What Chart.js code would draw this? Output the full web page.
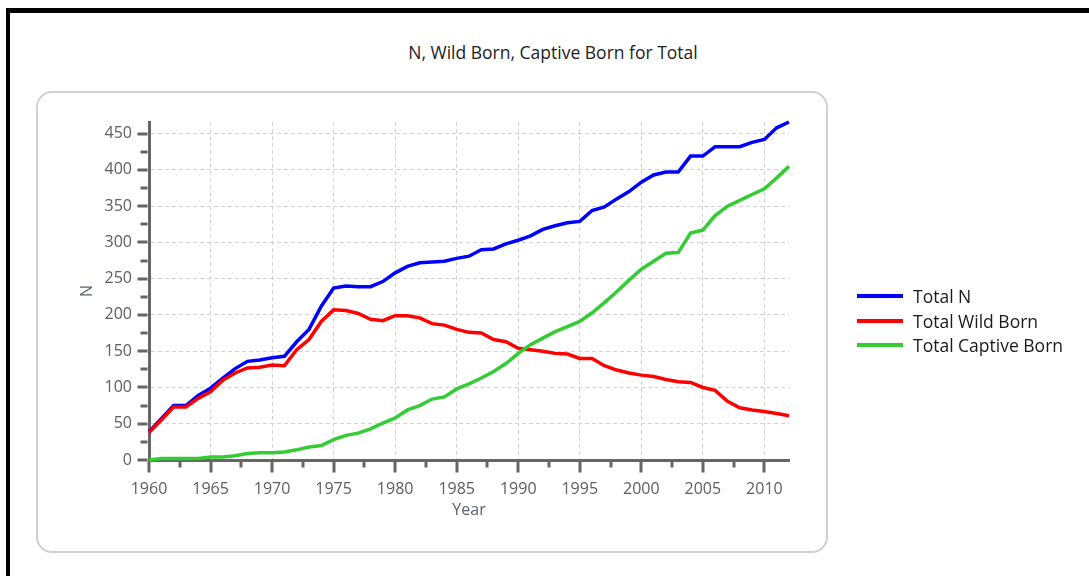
<!DOCTYPE html>
<html>
<head>
<meta charset="utf-8">
<title>N, Wild Born, Captive Born for Total</title>
<script src="https://cdn.jsdelivr.net/npm/chart.js@4.4.1/dist/chart.umd.min.js"></script>
<style>
  html, body { margin: 0; padding: 0; background: #fff; }
  #page { position: relative; width: 1089px; height: 576px; overflow: hidden; font-family: 'Open Sans', sans-serif; }
  #frame { position: absolute; left: 6px; top: 8px; width: 1200px; height: 700px; border-top: 5px solid #000; border-left: 4px solid #000; }
  #panel { position: absolute; left: 36px; top: 91px; width: 788px; height: 458px; border: 2px solid #d0d0d0; border-radius: 16px; }
  #title { position: absolute; left: 303px; width: 500px; top: 40px; text-align: center; font-size: 17.5px; color: #222; }
  #chart { position: absolute; left: 0; top: 0; }
  #legend { position: absolute; left: 857px; top: 284px; }
  .item { display: flex; align-items: center; height: 24.5px; font-size: 17.5px; color: #1a1a1a; white-space: nowrap; }
  .swatch { width: 46px; height: 4px; margin-right: 10px; }
</style>
</head>
<body>
<div id="page">
  <div id="frame"></div>
  <div id="panel"></div>
  <div id="title">N, Wild Born, Captive Born for Total</div>
  <canvas id="chart" width="1089" height="576"></canvas>
  <div id="legend"></div>
</div>
<script>
const years = [1960, 1961, 1962, 1963, 1964, 1965, 1966, 1967, 1968, 1969,
    1970, 1971, 1972, 1973, 1974, 1975, 1976, 1977, 1978, 1979,
    1980, 1981, 1982, 1983, 1984, 1985, 1986, 1987, 1988, 1989,
    1990, 1991, 1992, 1993, 1994, 1995, 1996, 1997, 1998, 1999,
    2000, 2001, 2002, 2003, 2004, 2005, 2006, 2007, 2008, 2009,
    2010, 2011, 2012];

const totalN = [39, 57, 75, 75, 89, 99, 113, 126, 136, 138,
    141, 143, 163, 180, 212, 237, 240, 239, 239, 246,
    258, 267, 272, 273, 274, 278, 281, 290, 291, 298,
    303, 309, 318, 323, 327, 329, 344, 349, 360, 370,
    383, 393, 397, 397, 419, 419, 432, 432, 432, 438,
    442, 458, 466];

const wildBorn = [38, 55, 73, 73, 85, 94, 110, 120, 127, 128,
    131, 130, 152, 166, 191, 207, 206, 202, 194, 192,
    199, 199, 196, 188, 186, 180, 176, 175, 166, 163,
    154, 152, 150, 147, 146, 140, 140, 130, 124, 120,
    117, 115, 111, 108, 107, 100, 96, 81, 72, 69,
    67, 64, 61];

const captiveBorn = [0, 2, 2, 2, 2, 4, 4, 6, 9, 10,
    10, 11, 14, 18, 20, 28, 34, 37, 43, 51,
    58, 69, 75, 84, 87, 98, 105, 113, 122, 133,
    147, 159, 168, 177, 184, 191, 203, 217, 232, 248,
    263, 274, 285, 286, 313, 317, 337, 350, 358, 366,
    374, 389, 405];

const seriesNames = ['Total N', 'Total Wild Born', 'Total Captive Born'];
const seriesColors = ['#0000ff', '#ff0000', '#33cc33'];

const axisColor = '#666666';
const gridColor = '#d2d2d2';

function toPoints(values) {
    return years.map((yr, i) => ({ x: yr, y: values[i] }));
}

// axis tick marks: long at labelled values, short in between
const tickMarks = {
    id: 'tickMarks',
    afterDraw(chart) {
        const { ctx, chartArea, scales } = chart;
        ctx.save();
        ctx.strokeStyle = axisColor;
        ctx.lineWidth = 3;
        ctx.beginPath();
        for (let v = 0; v <= scales.y.max; v += 25) {
            const py = Math.round(scales.y.getPixelForValue(v));
            const len = v % 50 === 0 ? 10 : 7;
            ctx.moveTo(chartArea.left - 1.5 - len, py);
            ctx.lineTo(chartArea.left - 1.5, py);
        }
        for (let v = scales.x.min; v <= scales.x.max; v += 2.5) {
            const px = Math.round(scales.x.getPixelForValue(v));
            const len = v % 5 === 0 ? 11 : 6;
            ctx.moveTo(px, chartArea.bottom + 1.5);
            ctx.lineTo(px, chartArea.bottom + 1.5 + len);
        }
        ctx.stroke();
        ctx.restore();
    }
};

const tickFont = { family: 'Open Sans', size: 16 };

const chart = new Chart(document.getElementById('chart'), {
    type: 'line',
    data: {
        datasets: [
            { label: seriesNames[0], data: toPoints(totalN), borderColor: seriesColors[0], order: 3 },
            { label: seriesNames[1], data: toPoints(wildBorn), borderColor: seriesColors[1], order: 2 },
            { label: seriesNames[2], data: toPoints(captiveBorn), borderColor: seriesColors[2], order: 1 }
        ]
    },
    options: {
        responsive: false,
        animation: false,
        clip: false,
        elements: {
            line: { borderWidth: 3.5, tension: 0, fill: false },
            point: { radius: 0 }
        },
        layout: { padding: { left: 0, top: 122, right: 300, bottom: 0 } },
        plugins: {
            legend: { display: false },
            tooltip: { enabled: false }
        },
        scales: {
            x: {
                type: 'linear',
                min: 1960,
                max: 2012,
                afterFit(s) { s.height = 116; },
                ticks: {
                    stepSize: 2.5,
                    includeBounds: false,
                    autoSkip: false,
                    maxRotation: 0,
                    minRotation: 0,
                    padding: 20,
                    color: '#5e5e5e',
                    font: tickFont,
                    callback: v => (v % 5 === 0 ? String(v) : '')
                },
                grid: {
                    drawTicks: false,
                    lineWidth: 1,
                    color: c => (c.tick && c.tick.value % 5 === 0 && c.tick.value > 1960 ? gridColor : 'transparent')
                },
                border: { display: true, color: axisColor, width: 3, dash: [4, 3] },
                title: {
                    display: true,
                    text: 'Year',
                    color: '#5d6270',
                    font: { family: 'Open Sans', size: 16 },
                    padding: { top: 0, bottom: 56 }
                }
            },
            y: {
                min: 0,
                max: 466,
                afterFit(s) { s.width = 149; },
                ticks: {
                    stepSize: 25,
                    includeBounds: false,
                    autoSkip: false,
                    padding: 17,
                    color: '#5e5e5e',
                    font: tickFont,
                    callback: v => (v % 50 === 0 ? String(v) : '')
                },
                grid: {
                    drawTicks: false,
                    lineWidth: 1,
                    color: c => (c.tick && c.tick.value % 50 === 0 && c.tick.value > 0 ? gridColor : 'transparent')
                },
                border: { display: true, color: axisColor, width: 3, dash: [4, 3] },
                title: {
                    display: true,
                    text: 'N',
                    color: '#5d6270',
                    font: { family: 'Open Sans', size: 16 },
                    padding: { top: 78, bottom: 0 }
                }
            }
        }
    },
    plugins: [tickMarks]
});

// legend outside the chart box, built from the datasets
const legendEl = document.getElementById('legend');
chart.data.datasets.forEach(ds => {
    const row = document.createElement('div');
    row.className = 'item';
    const sw = document.createElement('span');
    sw.className = 'swatch';
    sw.style.background = ds.borderColor;
    const txt = document.createElement('span');
    txt.textContent = ds.label;
    row.appendChild(sw);
    row.appendChild(txt);
    legendEl.appendChild(row);
});
</script>
</body>
</html>
